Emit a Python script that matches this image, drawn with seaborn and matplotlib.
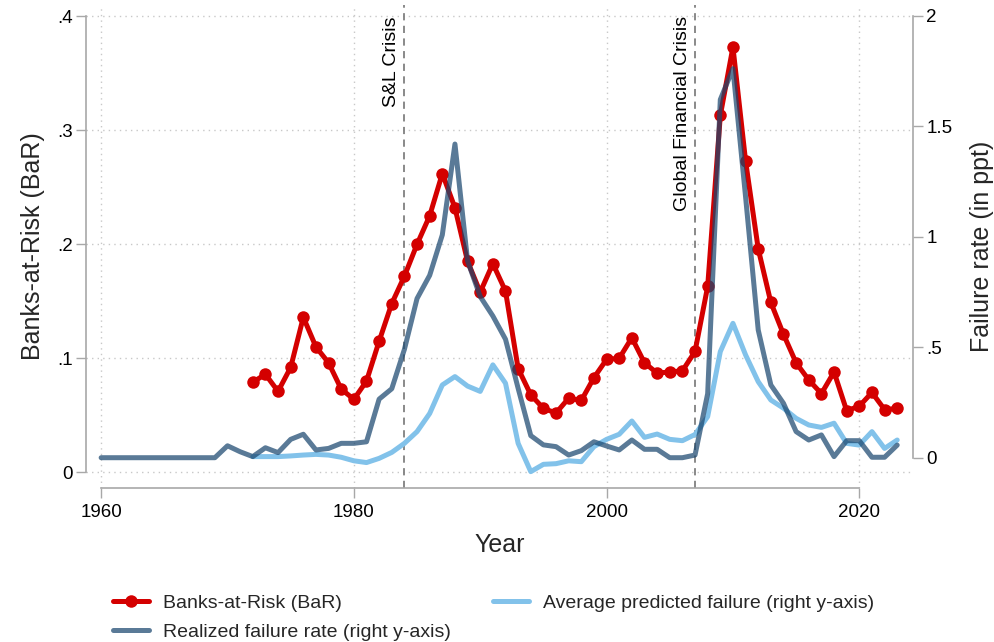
import numpy as np
import pandas as pd
import matplotlib
matplotlib.use("Agg")
import matplotlib.pyplot as plt
from matplotlib.lines import Line2D
import seaborn as sns

# Data
years_bar = list(range(1972, 2024))
bar_values = [0.079, 0.086, 0.071, 0.092, 0.136, 0.110, 0.096, 0.073, 0.064, 0.080,
              0.115, 0.148, 0.172, 0.200, 0.225, 0.262, 0.232, 0.185, 0.158, 0.183,
              0.159, 0.091, 0.068, 0.056, 0.052, 0.065, 0.063, 0.083, 0.099, 0.100,
              0.118, 0.096, 0.087, 0.088, 0.089, 0.106, 0.163, 0.313, 0.373, 0.273,
              0.196, 0.149, 0.121, 0.096, 0.081, 0.069, 0.088, 0.054, 0.058, 0.070,
              0.055, 0.056]

years_realized = list(range(1960, 2024))
realized_values = [0, 0, 0, 0, 0, 0, 0, 0, 0, 0,
                   0.054, 0.027, 0.005, 0.045, 0.023, 0.083, 0.106, 0.035, 0.042, 0.065,
                   0.065, 0.072, 0.265, 0.312, 0.490, 0.720, 0.825, 1.008, 1.419, 0.890,
                   0.729, 0.641, 0.536, 0.314, 0.100, 0.058, 0.050, 0.012, 0.032, 0.072,
                   0.053, 0.035, 0.080, 0.038, 0.038, 0.000, 0.000, 0.012, 0.290, 1.620,
                   1.760, 1.180, 0.578, 0.329, 0.246, 0.118, 0.080, 0.103, 0.005, 0.077,
                   0.077, 0.002, 0.002, 0.057]

years_pred = list(range(1972, 2024))
pred_values = [0.005, 0.005, 0.005, 0.008, 0.012, 0.015, 0.012, 0.002, -0.014, -0.022,
               -0.003, 0.024, 0.065, 0.118, 0.200, 0.329, 0.367, 0.324, 0.300, 0.420,
               0.337, 0.065, -0.063, -0.030, -0.027, -0.014, -0.018, 0.050, 0.083, 0.106,
               0.166, 0.092, 0.107, 0.083, 0.077, 0.105, 0.186, 0.480, 0.608, 0.465,
               0.344, 0.261, 0.224, 0.178, 0.148, 0.137, 0.156, 0.065, 0.057, 0.118,
               0.042, 0.080]

crisis_years = [1984, 2007]
crisis_labels = ["S&L Crisis", "Global Financial Crisis"]

left_ticks = [0, 0.1, 0.2, 0.3, 0.4]
left_ticklabels = ["0", ".1", ".2", ".3", ".4"]
right_ticks = [0, 0.5, 1, 1.5, 2]
right_ticklabels = ["0", ".5", "1", "1.5", "2"]
x_ticks = [1960, 1980, 2000, 2020]

df_bar = pd.DataFrame({"year": years_bar, "bar": bar_values})
df_real = pd.DataFrame({"year": years_realized, "realized": realized_values})
df_pred = pd.DataFrame({"year": years_pred, "pred": pred_values})

sns.set_style("white")
plt.rcParams["font.family"] = ["Liberation Sans", "DejaVu Sans"]

RED = "#d40000"
NAVY = "#1a476f"
LTBLUE = "#82c2ea"
GRAY = "#a8a8a8"

fig = plt.figure(figsize=(9.95, 6.42), dpi=100)
ax = fig.add_axes([0.0864, 0.2399, 0.8312, 0.7523])
ax2 = ax.twinx()

# dotted grid on the left axis
for y in left_ticks:
    ax.axhline(y, color="#c8c8c8", linestyle=(0, (1, 3)), linewidth=1.0, zorder=0)
for x in x_ticks:
    ax.axvline(x, color="#c8c8c8", linestyle=(0, (1, 3)), linewidth=1.0, zorder=0)

for yr, lab in zip(crisis_years, crisis_labels):
    ax.axvline(yr, color="#808080", linestyle=(0, (4, 3)), linewidth=1.3, zorder=1)
    ax.text(yr - 0.35, 0.4, lab, rotation=90, ha="right", va="top",
            fontsize=14, color="black")

sns.lineplot(data=df_bar, x="year", y="bar", ax=ax, color=RED, linewidth=3.6,
             marker="o", markersize=9, markeredgewidth=0, label="Banks-at-Risk (BaR)",
             legend=False, zorder=3)
sns.lineplot(data=df_pred, x="year", y="pred", ax=ax2, color=LTBLUE, linewidth=3.6,
             legend=False, zorder=2)
sns.lineplot(data=df_real, x="year", y="realized", ax=ax2, color=NAVY, alpha=0.72,
             linewidth=3.6, legend=False, zorder=3)

ax.set_xlim(1958.8, 2024.25)
ax.set_ylim(-0.01377, 0.4099)
ax2.set_ylim(-0.137, 2.048)

ax.set_xticks(x_ticks)
ax.set_xticklabels([str(x) for x in x_ticks])
ax.set_yticks(left_ticks)
ax.set_yticklabels(left_ticklabels)
ax2.set_yticks(right_ticks)
ax2.set_yticklabels(right_ticklabels)

for a in (ax, ax2):
    a.grid(False)
    a.tick_params(axis="both", which="major", labelsize=13.5, length=7, width=1,
                  color=GRAY, labelcolor="black", pad=2.5)
    for s in a.spines.values():
        s.set_color(GRAY)
        s.set_linewidth(1.2)
    a.spines["top"].set_visible(False)

ax.tick_params(axis="x", bottom=True, pad=4.5)
ax.tick_params(axis="y", left=True)
ax2.tick_params(axis="y", right=True)
ax.spines["left"].set_bounds(0, 0.4)
ax.spines["bottom"].set_bounds(1960, 2020)
ax.spines["right"].set_visible(False)
ax2.spines["left"].set_visible(False)
ax2.spines["bottom"].set_visible(False)
ax2.spines["right"].set_bounds(0, 2)

ax.set_xlabel("Year", fontsize=18, labelpad=8.5)
ax.set_ylabel("Banks-at-Risk (BaR)", fontsize=18, labelpad=9)
ax2.set_ylabel("Failure rate (in ppt)", fontsize=18, labelpad=13)

handles = [
    Line2D([], [], color=RED, linewidth=3.6, marker="o", markersize=9, markeredgewidth=0),
    Line2D([], [], color=NAVY, alpha=0.72, linewidth=3.6),
    Line2D([], [], color=LTBLUE, linewidth=3.6),
]
labels = ["Banks-at-Risk (BaR)", "Realized failure rate (right y-axis)",
          "Average predicted failure (right y-axis)"]
fig.legend(handles, labels, loc="upper left", bbox_to_anchor=(0.1136, 0.0748),
           ncol=2, frameon=False, fontsize=14, handlelength=1.86, handletextpad=0.72,
           columnspacing=2.15, labelspacing=0.61, borderpad=0, borderaxespad=0)

fig.savefig("out.png", dpi=100)
